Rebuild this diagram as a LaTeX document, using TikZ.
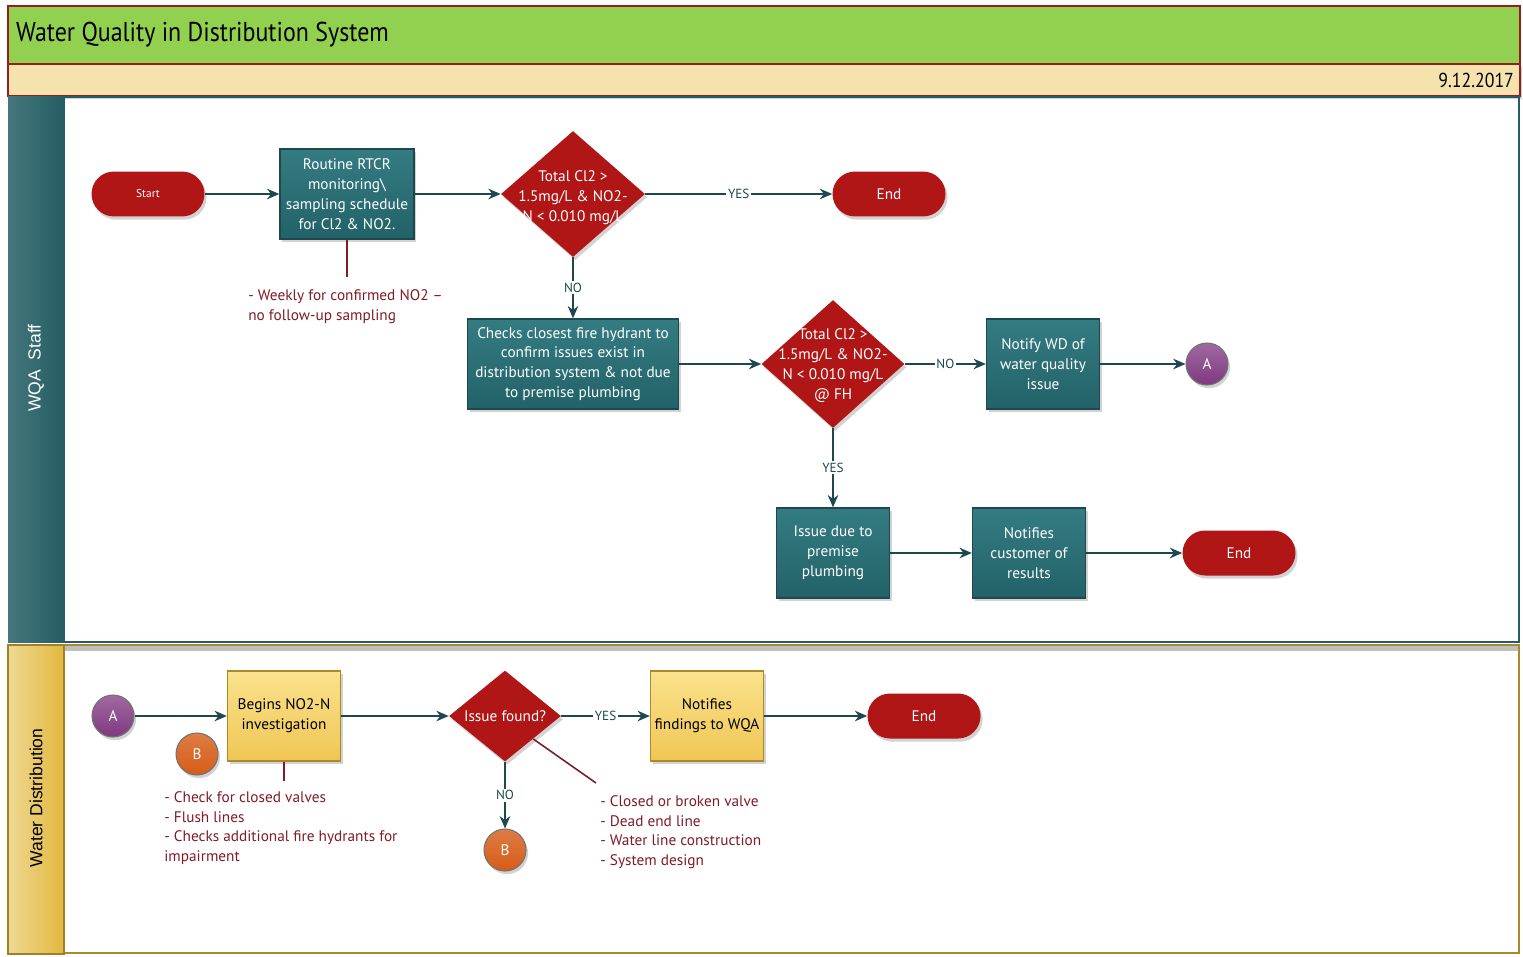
\documentclass[tikz,border=0pt]{standalone}
\usepackage{fontspec}
\setmainfont{PT Sans}
\newfontfamily\titlefont{PT Sans}[FakeStretch=0.88]
\newfontfamily\lanefont{Liberation Sans}
\usetikzlibrary{shapes.geometric,shadows,arrows.meta}

\definecolor{titlegreen}{RGB}{146,208,80}
\definecolor{datebeige}{RGB}{245,226,172}
\definecolor{framered}{RGB}{150,30,30}
\definecolor{laneteal}{RGB}{36,94,100}
\definecolor{boxteal}{RGB}{34,98,104}
\definecolor{boxtealtop}{RGB}{52,124,130}
\definecolor{termred}{RGB}{176,22,22}
\definecolor{lanegold}{RGB}{226,184,60}
\definecolor{boxgold}{RGB}{240,198,84}
\definecolor{boxgoldtop}{RGB}{250,226,140}
\definecolor{connpurple}{RGB}{128,56,128}
\definecolor{connorange}{RGB}{214,92,22}
\definecolor{notered}{RGB}{128,28,38}
\definecolor{flowline}{RGB}{28,72,78}

\begin{document}
\begin{tikzpicture}[
  x=0.02cm, y=-0.02cm,
  every node/.style = {font=\fontsize{8.7}{11.3}\selectfont},
  castshadow/.style = {drop shadow={opacity=0.35, shadow xshift=1.2pt, shadow yshift=-1.8pt}},
  proc/.style = {rectangle, draw=flowline, line width=0.8pt, top color=boxtealtop, bottom color=boxteal,
                 text=white, align=center, minimum width=2.26cm, minimum height=1.8cm, inner sep=2pt, castshadow},
  goldproc/.style = {proc, top color=boxgoldtop, bottom color=boxgold, draw=lanegold!75!black, text=black},
  term/.style = {rectangle, rounded corners=0.45cm, fill=termred, text=white,
                 minimum width=2.26cm, minimum height=0.9cm, castshadow},
  decide/.style = {diamond, fill=termred, inner sep=0pt, castshadow},
  dtext/.style = {text=white, align=center},
  conn/.style = {circle, minimum size=0.84cm, inner sep=0pt, text=white, draw=black!55, line width=0.6pt, castshadow},
  flow/.style = {draw=flowline, line width=1pt, -{Stealth[length=7pt,width=6pt]}},
  tag/.style = {fill=white, inner sep=1pt, text=flowline, font=\fontsize{7.5}{9}\selectfont},
  note/.style = {text=notered, align=left, anchor=north west, inner sep=0pt},
  noteline/.style = {draw=notered, line width=0.9pt}
]
  \useasboundingbox (0,0) rectangle (1523,956);
  \fill[white] (0,0) rectangle (1523,956);

  % title and date bars
  \fill[datebeige, castshadow] (8,64) rectangle (1520,96);
  \fill[titlegreen] (8,6) rectangle (1520,64);
  \draw[framered, line width=1pt] (8,6) rectangle (1520,96) (8,64) -- (1520,64);
  \node[anchor=west, font=\titlefont\fontsize{15.5}{18}\selectfont] (title) at (10,35) {Water Quality in Distribution System};
  \node[anchor=east, inner sep=1pt, font=\titlefont\fontsize{11.5}{13}\selectfont] (date) at (1516,80) {9.12.2017};

  % lanes
  \draw[laneteal, line width=1pt] (64,97) rectangle (1519,642);
  \shade[left color=laneteal!85!white, right color=laneteal] (8,97) rectangle (64,642);
  \fill[black!25] (64,646) rectangle (1519,651);
  \draw[lanegold!75!black, line width=1pt] (64,645) rectangle (1519,953);
  \shade[left color=lanegold!55!white, right color=lanegold] (8,645) rectangle (64,954);
  \draw[lanegold!70!black, line width=0.8pt] (8,645) rectangle (64,954);
  \node[rotate=90, text=white, font=\lanefont\fontsize{10}{12}\selectfont] (wqa) at (36,368) {WQA\ \ Staff};
  \node[rotate=90, text=black, font=\lanefont\fontsize{10}{12}\selectfont] (wd) at (36,798) {Water Distribution};

  % WQA Staff
  \node[term, font=\fontsize{6.5}{8}\selectfont] (start) at (148,194) {Start};
  \node[proc, minimum width=2.68cm] (rtcr) at (347,194) {Routine RTCR\\monitoring\textbackslash\\sampling schedule\\for Cl2 \& NO2.};
  \node[decide, minimum width=2.88cm, minimum height=2.52cm,
        label={[dtext, yshift=-2pt]center:{Total Cl2 >\\1.5mg/L \& NO2-\\N < 0.010 mg/L}}] (chk1) at (573,194) {};
  \node[term] (end1) at (889,194) {End};
  \node[proc, minimum width=4.22cm] (hyd) at (573,364) {Checks closest fire hydrant to\\confirm issues exist in\\distribution system \& not due\\to premise plumbing};
  \node[decide, minimum width=2.86cm, minimum height=2.56cm,
        label={[dtext, yshift=-1pt]center:{Total Cl2 >\\1.5mg/L \& NO2-\\N < 0.010 mg/L\\@ FH}}] (chk2) at (833,364) {};
  \node[proc] (notify) at (1043,364) {Notify WD of\\water quality\\issue};
  \node[conn, top color=connpurple!75!white, bottom color=connpurple] (outa) at (1207,364) {A};
  \node[proc] (prem) at (833,553) {Issue due to\\premise\\plumbing};
  \node[proc] (cust) at (1029,553) {Notifies\\customer of\\results};
  \node[term] (end2) at (1239,553) {End};

  \draw[flow] (start) -- (rtcr);
  \draw[flow] (rtcr) -- (chk1);
  \draw[flow] (chk1) -- node[tag] {YES} (end1);
  \draw[flow] (chk1) -- node[tag] {NO} (hyd);
  \draw[flow] (hyd) -- (chk2);
  \draw[flow] (chk2) -- node[tag] {NO} (notify);
  \draw[flow] (notify) -- (outa);
  \draw[flow] (chk2) -- node[tag] {YES} (prem);
  \draw[flow] (prem) -- (cust);
  \draw[flow] (cust) -- (end2);

  \coordinate (rtcrnote) at (347,277);
  \draw[noteline] (rtcr) -- (rtcrnote);
  \node[note] (weekly) at (248,289) {- Weekly for confirmed NO2 --\\no follow-up sampling};

  % Water Distribution
  \node[conn, top color=connpurple!75!white, bottom color=connpurple] (ina) at (113,716) {A};
  \node[goldproc] (begin) at (284,716) {Begins NO2-N\\investigation};
  \node[conn, top color=connorange!80!white, bottom color=connorange] (inb) at (197,754) {B};
  \node[decide, minimum width=2.24cm, minimum height=1.82cm,
        label={[dtext]center:{Issue found?}}] (found) at (505,716) {};
  \node[goldproc] (findings) at (707,716) {Notifies\\findings to WQA};
  \node[term] (end3) at (924,716) {End};
  \node[conn, top color=connorange!80!white, bottom color=connorange] (outb) at (505,850) {B};

  \draw[flow] (ina) -- (begin);
  \draw[flow] (begin) -- (found);
  \draw[flow] (found) -- node[tag] {YES} (findings);
  \draw[flow] (findings) -- (end3);
  \draw[flow] (found) -- node[tag] {NO} (outb);

  \coordinate (beginnote) at (284,781);
  \draw[noteline] (begin) -- (beginnote);
  \node[note] (checks) at (164,791) {- Check for closed valves\\- Flush lines\\- Checks additional fire hydrants for\\impairment};
  \coordinate (foundnote) at (596,783);
  \draw[noteline] (found.south east) -- (foundnote);
  \node[note] (causes) at (600,795) {- Closed or broken valve\\- Dead end line\\- Water line construction\\- System design};
\end{tikzpicture}
\end{document}
